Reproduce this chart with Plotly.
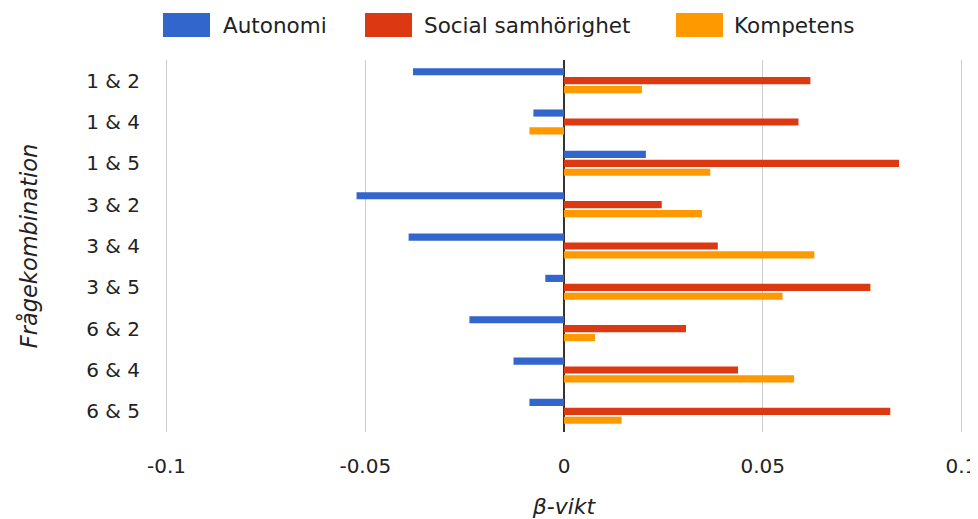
import plotly.graph_objects as go

categories = ["1 & 2", "1 & 4", "1 & 5", "3 & 2", "3 & 4", "3 & 5", "6 & 2", "6 & 4", "6 & 5"]
autonomi = [-0.0380, -0.0077, 0.0206, -0.0522, -0.0391, -0.0047, -0.0238, -0.0127, -0.0087]
social = [0.0620, 0.0590, 0.0843, 0.0246, 0.0387, 0.0771, 0.0307, 0.0438, 0.0821]
kompetens = [0.0196, -0.0087, 0.0368, 0.0347, 0.0630, 0.0550, 0.0078, 0.0579, 0.0145]
series_names = ["Autonomi", "Social samhörighet", "Kompetens"]
colors = ["#3366cc", "#dc3912", "#ff9900"]
tick_vals = [-0.1, -0.05, 0, 0.05, 0.1]
tick_text = ["-0.1", "-0.05", "0", "0.05", "0.1"]

FONT = "DejaVu Sans"
TXT = "#222222"
OFF = 8  # page body margin offset
W, H = 978 - OFF, 519 - OFF
L, R, T, B = 165 - OFF, 15, 60 - OFF, 87
pw, ph = W - L - R, H - T - B

def px(x):
    return (x - OFF - L) / pw

def py(y):
    return (H - B - (y - OFF)) / ph

fig = go.Figure()
for name, vals, c in zip(series_names, [autonomi, social, kompetens], colors):
    fig.add_trace(go.Bar(y=categories, x=vals, name=name, orientation="h",
                         marker=dict(color=c, line=dict(width=0)), showlegend=False))

# manual legend (window pixel positions)
legend_pos = [(163, 221), (365, 422), (676, 732)]
shapes = []
annotations = []
for (rx, tx), name, c in zip(legend_pos, series_names, colors):
    shapes.append(dict(type="rect", xref="paper", yref="paper",
                       x0=px(rx), x1=px(rx + 47), y0=py(37), y1=py(13),
                       fillcolor=c, line=dict(width=0)))
    annotations.append(dict(text=name, xref="paper", yref="paper", x=px(tx), y=py(25),
                            xanchor="left", yanchor="middle", showarrow=False,
                            font=dict(family=FONT, size=21.5, color=TXT)))

fig.update_layout(
    width=W, height=H,
    margin=dict(l=L, r=R, t=T, b=B, pad=0, autoexpand=False),
    paper_bgcolor="white", plot_bgcolor="white",
    barmode="group", bargap=0.35, bargroupgap=0.2,
    font=dict(family=FONT, size=20, color=TXT),
    shapes=shapes, annotations=annotations,
    xaxis=dict(range=[-0.1004, 0.1004], tickvals=tick_vals, ticktext=tick_text,
               showgrid=True, gridcolor="#cccccc", gridwidth=1,
               zeroline=True, zerolinecolor="#333333", zerolinewidth=2,
               showline=False, ticks="", ticklabelstandoff=20, automargin=False,
               title=dict(text="<i>β-vikt</i>", font=dict(size=22, color=TXT), standoff=26)),
    yaxis=dict(autorange="reversed", showgrid=False, zeroline=False, showline=False,
               ticks="", ticklabelstandoff=24, automargin=False,
               title=dict(text="<i>Frågekombination</i>", font=dict(size=22.5, color=TXT), standoff=42)),
)

fig.write_html("out.html")
